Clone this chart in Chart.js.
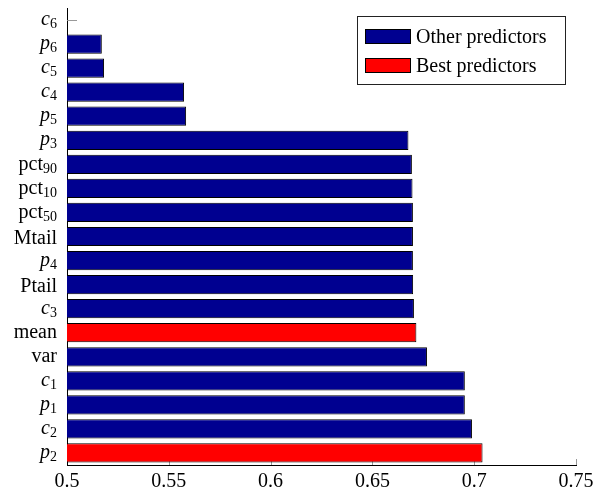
<!DOCTYPE html>
<html>
<head>
<meta charset="utf-8">
<script src="https://cdn.jsdelivr.net/npm/chart.js@4.4.0/dist/chart.umd.min.js"></script>
<style>
  body { margin: 0; background: #fff; }
  canvas { display: block; }
</style>
</head>
<body>
<canvas id="mycanvas" width="602" height="492"></canvas>
<script>
// predictors, top to bottom
var categories = ['c6', 'p6', 'c5', 'c4', 'p5', 'p3', 'pct90', 'pct10', 'pct50', 'Mtail',
                  'p4', 'Ptail', 'c3', 'mean', 'var', 'c1', 'p1', 'c2', 'p2'];
var scores = [0.5002, 0.5171, 0.5182, 0.5575, 0.5585, 0.6677, 0.6694, 0.6697, 0.6699, 0.6699,
              0.6699, 0.6700, 0.6704, 0.6716, 0.6768, 0.6954, 0.6954, 0.6989, 0.7041];
var bestPredictors = ['mean', 'p2'];
var xTicks = [0.5, 0.55, 0.6, 0.65, 0.7, 0.75];
var seriesNames = ['Other predictors', 'Best predictors'];
var seriesColors = ['#000090', '#ff0000'];

var otherData = [];
var bestData = [];
for (var i in categories) {
  var isBest = bestPredictors.indexOf(categories[i]) >= 0;
  otherData.push(isBest ? null : scores[i]);
  bestData.push(isBest ? scores[i] : null);
}

var serif = '"Liberation Serif", "DejaVu Serif", serif';

// little inward tick marks, drawn under the bars
var tickMarks = {
  id: 'tickMarks',
  beforeDatasetsDraw: function(chart) {
    var ctx = chart.ctx, area = chart.chartArea;
    var xs = chart.scales.x, ys = chart.scales.y;
    ctx.save();
    ctx.strokeStyle = '#999';
    ctx.lineWidth = 1;
    ctx.beginPath();
    for (var i = 0; i < categories.length; i++) {
      var py = Math.round(ys.getPixelForValue(i)) + 0.5;
      ctx.moveTo(area.left, py);
      ctx.lineTo(area.left + 10, py);
    }
    for (var j = 1; j < xTicks.length; j++) {
      var px = Math.round(xs.getPixelForValue(xTicks[j])) + 0.5;
      ctx.moveTo(px, area.bottom);
      ctx.lineTo(px, area.bottom - 6);
    }
    ctx.stroke();
    ctx.restore();
  }
};

// y labels with italic letters and subscripts
var yLabels = {
  id: 'yLabels',
  afterDraw: function(chart) {
    var ctx = chart.ctx, ys = chart.scales.y;
    var right = chart.chartArea.left - 10;
    ctx.save();
    ctx.fillStyle = '#000';
    ctx.textAlign = 'left';
    ctx.textBaseline = 'alphabetic';
    for (var i = 0; i < categories.length; i++) {
      var lab = categories[i];
      var m = lab.match(/^(c|p|pct)(\d+)$/);
      var base = m ? m[1] : lab;
      var sub = m ? m[2] : '';
      var baseFont = (base === 'c' || base === 'p') ? 'italic 20px ' + serif : '20px ' + serif;
      var subFont = '14px ' + serif;
      ctx.font = baseFont;
      var bm = ctx.measureText(base);
      ctx.font = subFont;
      var sw = sub ? ctx.measureText(sub).width : 0;
      var x0 = right - bm.width - sw;
      var py = ys.getPixelForValue(i);
      var baseline = py + bm.actualBoundingBoxAscent / 2;
      ctx.font = baseFont;
      ctx.fillText(base, x0, baseline);
      if (sub) {
        ctx.font = subFont;
        ctx.fillText(sub, x0 + bm.width, baseline + 3);
      }
    }
    ctx.restore();
  }
};

// boxed legend in the upper right
var boxLegend = {
  id: 'boxLegend',
  afterDraw: function(chart) {
    var ctx = chart.ctx;
    ctx.save();
    ctx.fillStyle = '#fff';
    ctx.fillRect(357, 16, 208, 68);
    ctx.strokeStyle = '#222';
    ctx.lineWidth = 1;
    ctx.strokeRect(357.5, 16.5, 208, 68);
    ctx.font = '20px ' + serif;
    ctx.textBaseline = 'alphabetic';
    for (var k = 0; k < seriesNames.length; k++) {
      var top = 29 + k * 29;
      ctx.fillStyle = seriesColors[k];
      ctx.fillRect(365, top, 45, 14);
      ctx.strokeStyle = '#000';
      ctx.strokeRect(365.5, top + 0.5, 45, 14);
      ctx.fillStyle = '#000';
      ctx.fillText(seriesNames[k], 416, top + 13.5);
    }
    ctx.restore();
  }
};

var ctx = document.getElementById('mycanvas');
var barGraph = new Chart(ctx, {
  type: 'bar',
  data: {
    labels: categories,
    datasets: [
      {
        label: seriesNames[0],
        data: otherData,
        backgroundColor: seriesColors[0],
        borderColor: '#000',
        borderWidth: 1,
        borderSkipped: false
      },
      {
        label: seriesNames[1],
        data: bestData,
        backgroundColor: seriesColors[1],
        borderColor: '#000',
        borderWidth: 1,
        borderSkipped: false
      }
    ]
  },
  options: {
    indexAxis: 'y',
    responsive: false,
    animation: false,
    grouped: false,
    skipNull: true,
    barPercentage: 0.8,
    categoryPercentage: 1,
    layout: { padding: { top: 8, right: 26, left: 0, bottom: 0 } },
    plugins: {
      legend: { display: false },
      tooltip: { enabled: false }
    },
    scales: {
      x: {
        type: 'linear',
        min: 0.5,
        max: 0.75,
        afterBuildTicks: function(s) {
          s.ticks = xTicks.map(function(v) { return { value: v }; });
        },
        afterFit: function(s) { s.height = 27; },
        ticks: {
          autoSkip: false,
          maxRotation: 0,
          padding: 5,
          color: '#000',
          font: { family: serif, size: 20 },
          callback: function(v) { return String(v); }
        },
        grid: { display: false, drawTicks: false },
        border: { display: true, color: '#000', width: 1 }
      },
      y: {
        afterFit: function(s) { s.width = 67; },
        ticks: { display: false },
        grid: { display: false, drawTicks: false },
        border: { display: true, color: '#000', width: 1 }
      }
    }
  },
  plugins: [tickMarks, yLabels, boxLegend]
});
</script>
</body>
</html>
